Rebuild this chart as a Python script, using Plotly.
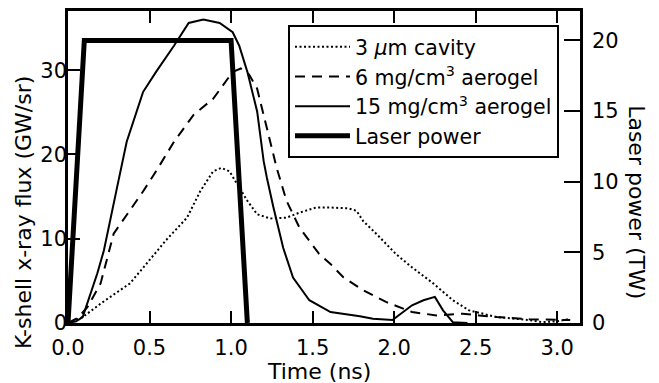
import plotly.graph_objects as go

# 3 um cavity (dotted)
t_cav = [0, 0.09, 0.20, 0.38, 0.48, 0.60, 0.73, 0.81, 0.89, 0.94, 0.99, 1.05, 1.10, 1.16, 1.24, 1.34,
         1.42, 1.52, 1.61, 1.72, 1.77, 1.81, 1.89, 2.01, 2.11, 2.24, 2.36, 2.46, 2.63, 2.83, 2.91, 3.00, 3.08]
f_cav = [0, 0.7, 2.3, 4.7, 7.0, 9.8, 12.5, 15.6, 18.0, 18.4, 18.0, 16.0, 14.5, 12.9, 12.4, 12.5,
         13.1, 13.7, 13.7, 13.6, 13.3, 12.1, 10.6, 8.2, 6.6, 4.7, 2.7, 1.5, 0.7, 0.35, 0.1, 0.2, 0.5]

# 6 mg/cm3 aerogel (dashed)
t_a6 = [0, 0.06, 0.12, 0.20, 0.28, 0.38, 0.46, 0.54, 0.65, 0.77, 0.89, 1.01, 1.06, 1.11, 1.16, 1.22,
        1.28, 1.34, 1.42, 1.54, 1.61, 1.69, 1.81, 1.95, 2.11, 2.26, 2.42, 2.52, 2.63, 2.83, 3.08]
f_a6 = [0, 0.6, 1.9, 4.7, 10.6, 13.3, 15.6, 18.0, 21.5, 24.7, 26.6, 29.8, 30.2, 29.5, 27.8, 23.1,
        18.4, 14.5, 11.3, 8.2, 7.0, 5.4, 3.9, 2.5, 1.3, 0.9, 1.1, 0.9, 0.7, 0.45, 0.35]

# 15 mg/cm3 aerogel (solid)
t_a15 = [0, 0.05, 0.09, 0.18, 0.22, 0.26, 0.30, 0.36, 0.46, 0.54, 0.65, 0.74, 0.83, 0.93, 1.01, 1.05,
         1.10, 1.16, 1.18, 1.20, 1.22, 1.26, 1.32, 1.38, 1.48, 1.61, 1.79, 1.87, 1.99, 2.11, 2.18,
         2.25, 2.30, 2.36, 2.45]
f_a15 = [0, 0.2, 0.7, 5.9, 8.6, 12.1, 16.0, 21.5, 27.4, 29.8, 32.9, 35.6, 36.0, 35.6, 34.5, 32.9,
         29.8, 25.1, 22.3, 19.2, 17.2, 13.7, 8.9, 5.4, 2.7, 1.3, 0.8, 0.5, 0.35, 2.1, 2.7,
         3.1, 1.5, 0.1, 0.0]

# Laser power (TW)
t_las = [0, 0.1, 1.0, 1.1]
p_las = [0, 20, 20, 0]

x_ticks = [0, 0.5, 1.0, 1.5, 2.0, 2.5, 3.0]
x_ticktext = ["0.0", "0.5", "1.0", "1.5", "2.0", "2.5", "3.0"]
y_ticks = [0, 10, 20, 30]
y2_ticks = [0, 5, 10, 15, 20]

FONT = "DejaVu Sans"

fig = go.Figure()
fig.add_trace(go.Scatter(x=t_cav, y=f_cav, mode="lines", name="3 <i>µ</i>m cavity",
                         line=dict(color="black", width=2, dash="2px,2.5px")))
fig.add_trace(go.Scatter(x=t_a6, y=f_a6, mode="lines", name="6 mg/cm<sup>3</sup> aerogel",
                         line=dict(color="black", width=2, dash="10px,7px")))
fig.add_trace(go.Scatter(x=t_a15, y=f_a15, mode="lines", name="15 mg/cm<sup>3</sup> aerogel",
                         line=dict(color="black", width=2)))
fig.add_trace(go.Scatter(x=t_las, y=p_las, mode="lines", name="Laser power", yaxis="y2",
                         line=dict(color="black", width=5)))

axis_common = dict(showline=True, linecolor="black", linewidth=2.5, ticks="inside",
                   tickcolor="black", tickwidth=2, showgrid=False, zeroline=False,
                   tickfont=dict(family=FONT, size=21, color="black"))

fig.update_layout(
    width=659, height=383,
    margin=dict(l=68, r=79, t=8, b=60),
    paper_bgcolor="white", plot_bgcolor="white",
    font=dict(family=FONT, color="black"),
    showlegend=True,
    legend=dict(x=0.4297, y=0.955, xanchor="left", yanchor="top",
                bordercolor="black", borderwidth=2, bgcolor="white",
                font=dict(family=FONT, size=20.5, color="black"),
                tracegroupgap=0, itemwidth=55),
    xaxis=dict(range=[0, 3.14], tickvals=x_ticks, ticktext=x_ticktext, ticklen=12,
               mirror="ticks", ticklabelstandoff=4, **axis_common),
    yaxis=dict(range=[0, 37.02], tickvals=y_ticks, ticklen=12, mirror=True,
               ticklabelstandoff=-6, **axis_common),
    yaxis2=dict(range=[0, 22.08], tickvals=y2_ticks, ticklen=16, overlaying="y", side="right",
                ticklabelstandoff=5, **axis_common),
    annotations=[
        dict(text="K-shell x-ray flux (GW/sr)", xref="paper", yref="paper",
             x=(23 - 68) / 512, y=(323 - 212) / 315, textangle=-90, showarrow=False,
             xanchor="center", yanchor="middle", font=dict(family=FONT, size=22, color="black")),
        dict(text="Laser power (TW)", xref="paper", yref="paper",
             x=(637 - 68) / 512, y=(323 - 201) / 315, textangle=90, showarrow=False,
             xanchor="center", yanchor="middle", font=dict(family=FONT, size=22, color="black")),
        dict(text="Time (ns)", xref="paper", yref="paper",
             x=(319 - 68) / 512, y=(323 - 372) / 315, showarrow=False,
             xanchor="center", yanchor="middle", font=dict(family=FONT, size=22, color="black")),
    ],
)

fig.write_html("out.html")
